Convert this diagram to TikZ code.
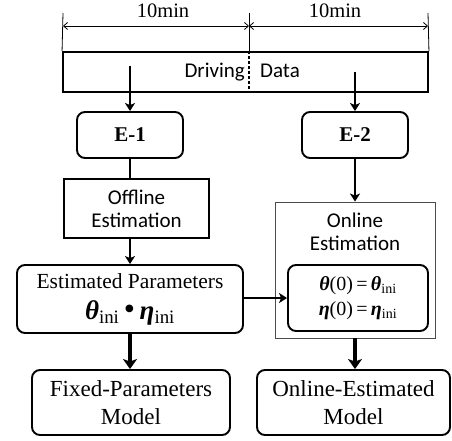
\documentclass[tikz,border=0pt]{standalone}
\usepackage{fontspec}
\setmainfont{Liberation Serif}
\newfontfamily\calfont{Carlito}
\usetikzlibrary{arrows.meta}
\tikzset{
  rbox/.style={draw, line width=1.9pt, rounded corners=8pt, align=center, inner sep=0pt},
  pbox/.style={draw, line width=1.2pt, align=center, inner sep=0pt},
  gbox/.style={draw=black!70, line width=0.9pt, inner sep=0pt},
  arr/.style={line width=1.8pt, -{Stealth[length=8pt,width=10pt,inset=2pt]}},
  tarr/.style={line width=3.8pt, -{Stealth[length=10pt,width=14pt,inset=2.5pt]}},
  dim/.style={line width=0.8pt, {Straight Barb[length=4pt,width=7pt]}-{Straight Barb[length=4pt,width=7pt]}},
  tick/.style={line width=0.8pt},
  ser/.style={font=\fontsize{20.5}{26}\selectfont},
  sans/.style={font=\calfont\fontsize{21}{24}\selectfont},
}
\newcommand{\bth}{{\bfseries\itshape θ}}
\newcommand{\bet}{{\bfseries\itshape η}}
\newcommand{\ini}{\textsubscript{ini}}
\begin{document}
\begin{tikzpicture}[x=1pt,y=-1pt]
\useasboundingbox (0,0) rectangle (452,441);
% driving data box
\node[draw, line width=1.9pt, minimum width=365pt, minimum height=40pt, inner sep=0pt] (drive) at (245.5,72) {};
\draw[line width=1.3pt, dashed, dash pattern=on 3pt off 2pt] (drive.north -| 249,0) coordinate (dtop) -- (drive.south -| 249,0) coordinate (dbot);
\node[sans, anchor=base east, inner sep=0pt] (drv) at (245,78) {Driving};
\node[sans, anchor=base west, inner sep=0pt] (dat) at (260,78) {Data};
% dimension
\coordinate (t1) at (63,13);
\coordinate (t2) at (249,13);
\coordinate (t3) at (428,13);
\draw[tick] (t1) -- (drive.north west);
\draw[tick] (t2) -- (dtop);
\draw[tick] (t3) -- (drive.north east);
\coordinate (a1) at (63,26);
\coordinate (a2) at (249,26);
\coordinate (a3) at (428,26);
\draw[dim] (a1) -- (a2);
\draw[dim] (a2) -- (a3);
\node[ser, anchor=base, inner sep=0pt] (m1) at (163,18) {10min};
\node[ser, anchor=base, inner sep=0pt] (m2) at (335,18) {10min};
% E boxes
\node[rbox, minimum width=106pt, minimum height=46pt, font=\bfseries\fontsize{21}{24}\selectfont] (e1) at (130,135) {E-1};
\node[rbox, minimum width=106pt, minimum height=46pt, font=\bfseries\fontsize{21}{24}\selectfont] (e2) at (355,135) {E-2};
\coordinate (s1) at (130,66);
\coordinate (s2) at (355,72);
\draw[arr] (s1) -- (e1.north);
\draw[arr] (s2) -- (e2.north);
% offline
\node[pbox, sans, minimum width=145pt, minimum height=59pt] (off) at (136.5,208.5) {Offline\\[-1pt]Estimation};
\draw[line width=1.8pt] (e1.south) -- (e1.south |- off.north);
% estimated parameters
\node[rbox, ser, minimum width=226pt, minimum height=68pt, font=\fontsize{21.5}{31}\selectfont] (est) at (130,299) {Estimated Parameters\\ {\fontsize{27}{30}\selectfont \bth\ini\,{\fontsize{32}{30}\selectfont•}\,\bet\ini}};
\draw[arr] (off.south -| 130,0) -- (est.north);
% online box
\node[gbox, minimum width=160pt, minimum height=136pt] (onl) at (355,270) {};
\node[sans, align=center, inner sep=0pt] (onlt) at (355,232) {Online\\[-1pt]Estimation};
\node[rbox, minimum width=140pt, minimum height=66pt, font=\fontsize{20}{25}\selectfont] (inn) at (358,298) {\bth(0)\,=\,\bth\ini\\ \bet(0)\,=\,\bet\ini};
\draw[arr] (e2.south) -- (onl.north -| e2.south);
\draw[arr] (est.east |- inn.west) -- (inn.west);
% models
\node[rbox, ser, minimum width=198pt, minimum height=65pt, font=\fontsize{23}{28}\selectfont] (fix) at (131,402.5) {Fixed-Parameters\\Model};
\node[rbox, ser, minimum width=193pt, minimum height=65pt, font=\fontsize{23}{28}\selectfont] (oem) at (353.5,402.5) {Online-Estimated\\Model};
\draw[tarr] (est.south) -- (fix.north -| est.south);
\draw[tarr] (onl.south) -- (oem.north -| onl.south);
\end{tikzpicture}
\end{document}
